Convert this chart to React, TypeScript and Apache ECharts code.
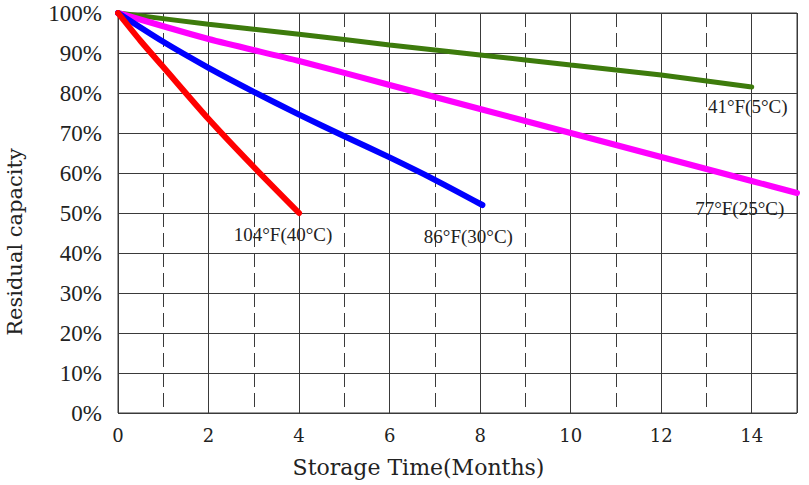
import React, { useEffect, useRef } from "react";
import * as echarts from "echarts";

const red40: [number, number][] = [[0, 100], [0.5, 93], [1, 86.5], [2, 73.5], [3, 61.5], [4, 50]];
const blue30: [number, number][] = [[0, 100], [1, 92.8], [2, 86.3], [3, 80.3], [4, 74.6], [5, 69.2], [6, 63.9], [7, 58.3], [8.05, 52]];
const magenta25: [number, number][] = [[0, 100], [2, 93.5], [4, 88], [6, 82], [8, 76], [10, 70], [12, 64], [14, 58], [15, 55]];
const green5: [number, number][] = [[0, 100], [2, 97.2], [4, 94.7], [6, 92], [8, 89.5], [10, 87], [12, 84.5], [14, 81.5]];

const labelRed = "104°F(40°C)";
const labelBlue = "86°F(30°C)";
const labelMagenta = "77°F(25°C)";
const labelGreen = "41°F(5°C)";

const xTitle = "Storage Time(Months)";
const yTitle = "Residual capacity";

const GRID = "#3a3a3a";
const serif = "Liberation Serif";
const labelFont = { fontFamily: serif, fontSize: 19, color: "#222" };

function withEndLabel(data: [number, number][], idx: number, text: string, offset: [number, number]) {
  return data.map((d, i) =>
    i === idx
      ? {
          value: d,
          label: {
            show: true,
            position: "inside",
            offset,
            formatter: text,
            ...labelFont,
          },
        }
      : { value: d }
  );
}

export default function App() {
  const ref = useRef<HTMLDivElement>(null);
  useEffect(() => {
    if (!ref.current) return;
    const chart = echarts.init(ref.current, undefined, { renderer: "svg" });
    const lineSeries = (name: string, data: any[], color: string, width: number) => ({
      name,
      type: "line",
      data,
      xAxisIndex: 0,
      yAxisIndex: 0,
      showSymbol: true,
      symbol: "circle",
      symbolSize: 0,
      smooth: 0.25,
      lineStyle: { color, width, cap: "round" },
      itemStyle: { color },
      label: { show: false },
      emphasis: { disabled: true },
      z: 5,
    });
    chart.setOption({
      animation: false,
      backgroundColor: "#fff",
      grid: {
        left: 118,
        right: 12,
        top: 13,
        bottom: 72,
        outerBoundsMode: "none",
        containLabel: false,
        show: true,
        borderColor: GRID,
        borderWidth: 1,
        backgroundColor: "transparent",
      },
      xAxis: [
        {
          type: "value",
          min: 0,
          max: 15,
          interval: 2,
          axisLine: { show: false },
          axisTick: { show: false },
          splitLine: { show: true, lineStyle: { color: GRID, width: 1, type: "solid" } },
          axisLabel: {
            fontFamily: "DejaVu Serif",
            fontSize: 18,
            color: "#222",
            margin: 13,
            showMaxLabel: false,
            formatter: (v: number) => (v % 2 === 0 ? String(v) : ""),
          },
          name: xTitle,
          nameLocation: "middle",
          nameGap: 43,
          nameTextStyle: { fontFamily: "DejaVu Serif", fontSize: 22, color: "#222", padding: [0, 78, 0, 0] },
        },
        {
          type: "value",
          min: 0,
          max: 15,
          interval: 1,
          position: "bottom",
          axisLine: { show: false },
          axisTick: { show: false },
          axisLabel: { show: false },
          splitLine: { show: true, lineStyle: { color: GRID, width: 1, type: [14, 6] } },
        },
      ],
      yAxis: {
        type: "value",
        min: 0,
        max: 100,
        interval: 10,
        axisLine: { show: false },
        axisTick: { show: false },
        splitLine: { show: true, lineStyle: { color: GRID, width: 1 } },
        axisLabel: {
          formatter: "{value}%",
          fontFamily: serif,
          fontSize: 23,
          color: "#222",
          margin: 16,
        },
        name: yTitle,
        nameLocation: "middle",
        nameGap: 93,
        nameTextStyle: { fontFamily: "DejaVu Serif", fontSize: 21, color: "#222", padding: [0, 58, 0, 0] },
      },
      series: [
        lineSeries("41°F(5°C)", withEndLabel(green5, green5.length - 1, labelGreen, [-4, 19]), "#3d7b0c", 5),
        lineSeries("77°F(25°C)", withEndLabel(magenta25, 7, labelMagenta, [-12, 27]), "#ff00ff", 6),
        lineSeries("86°F(30°C)", withEndLabel(blue30, blue30.length - 1, labelBlue, [-14, 31]), "#0000ff", 6),
        lineSeries("104°F(40°C)", withEndLabel(red40, red40.length - 1, labelRed, [-16, 21]), "#ff0000", 6),
      ],
    });
    return () => chart.dispose();
  }, []);
  return <div ref={ref} style={{ position: "fixed", left: 0, top: 0, width: 809, height: 485 }} />;
}
